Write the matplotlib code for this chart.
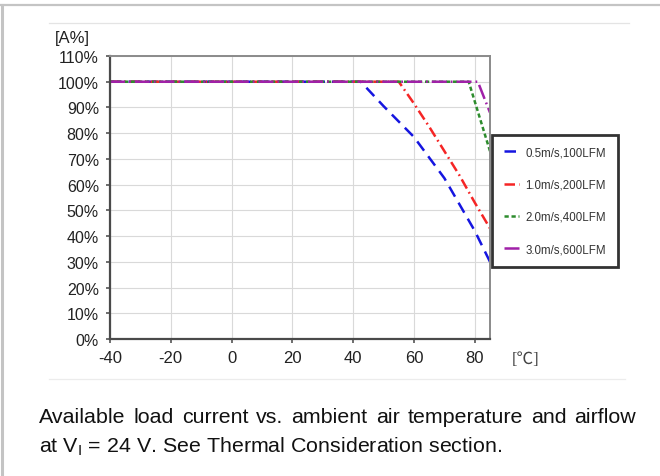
import matplotlib
matplotlib.use("Agg")
import matplotlib.pyplot as plt
from matplotlib.lines import Line2D

plt.rcParams['font.family'] = ['Liberation Sans', 'DejaVu Sans']
plt.rcParams['mathtext.fontset'] = 'custom'
plt.rcParams['mathtext.rm'] = 'Liberation Sans'

# ---- data ----
labels = ["0.5m/s,100LFM", "1.0m/s,200LFM", "2.0m/s,400LFM", "3.0m/s,600LFM"]
temp_05 = [-40, 42.5, 50, 60, 70, 80, 85]
load_05 = [100, 100, 90.5, 78.5, 62.5, 42, 30]
temp_10 = [-40, 55, 60, 65, 70, 75, 80, 85]
load_10 = [100, 100, 91.5, 82.5, 73, 63.5, 53, 43]
temp_20 = [-40, 78, 85]
load_20 = [100, 100, 73]
temp_30 = [-40, 81, 85]
load_30 = [100, 100, 88]
x_ticks = [-40, -20, 0, 20, 40, 60, 80]
y_ticks = [0, 10, 20, 30, 40, 50, 60, 70, 80, 90, 100, 110]

W, H = 660, 477
fig = plt.figure(figsize=(W / 100, H / 100), dpi=100)

def fx(px):
    return px / W

def fy(py):
    return 1 - py / H

# page frame
fig.add_artist(Line2D([0, 1], [fy(6), fy(6)], color='#c4c4c4', lw=1.6))
fig.add_artist(Line2D([fx(1.5), fx(1.5)], [0, fy(6)], color='#c4c4c4', lw=2.2))
# faint border lines of the embedded picture
fig.add_artist(Line2D([fx(49), fx(629)], [fy(24), fy(24)], color='#e4e4e4', lw=0.9))
fig.add_artist(Line2D([fx(49), fx(625)], [fy(380), fy(380)], color='#ececec', lw=0.9))

ax = fig.add_axes([fx(110), fy(340), (490 - 110) / W, (340 - 57) / H])

ax.plot(temp_05, load_05, color='#1515e0', lw=1.8, linestyle=(0, (4.6, 2.8)), label=labels[0])
ax.plot(temp_10, load_10, color='#f52525', lw=1.8, linestyle=(0, (4.2, 1.6, 0.7, 1.6)), label=labels[1])
ax.plot(temp_20, load_20, color='#2d8c2d', lw=1.8, linestyle=(0, (1.7, 1.1)), label=labels[2])
ax.plot(temp_30, load_30, color='#a020a8', lw=1.8, linestyle=(0, (6, 1.6, 0.7, 1.6)), label=labels[3])

ax.set_xlim(-40, 85)
ax.set_ylim(0, 110)
ax.set_xticks(x_ticks)
ax.set_yticks(y_ticks)
ax.set_xticklabels([str(v) for v in x_ticks], fontsize=12, color='#222222')
ax.set_yticklabels([f"{v}%" for v in y_ticks], fontsize=11.5, color='#222222')
ax.grid(True, color='#d9d9d9', lw=0.8)
ax.set_axisbelow(True)
for s in ['left', 'bottom']:
    ax.spines[s].set_color('#4a4a4a')
    ax.spines[s].set_linewidth(1.6)
for s in ['top', 'right']:
    ax.spines[s].set_color('#8a8a8a')
    ax.spines[s].set_linewidth(1.4)
ax.tick_params(axis='both', direction='out', length=3, width=1.2, color='#555555')
ax.tick_params(axis='y', pad=5)
ax.tick_params(axis='x', pad=5)

fig.text(fx(72), fy(39), "[A%]", fontsize=12, color='#222222', ha='center', va='center')
fig.text(fx(526), fy(360), "[℃]", fontsize=12, color='#444444', ha='center', va='center',
         family=['Liberation Serif', 'Noto Sans CJK SC', 'DejaVu Serif'])

leg = ax.legend(loc='upper left', bbox_to_anchor=(fx(492), fy(136)), bbox_transform=fig.transFigure,
                borderaxespad=0, fontsize=8.3, frameon=True, fancybox=False,
                borderpad=1.0, labelspacing=1.75, handlelength=1.3, handletextpad=0.6)
leg.get_frame().set_edgecolor('black')
leg.get_frame().set_linewidth(2.0)
for t in leg.get_texts():
    t.set_color('#333333')

# caption (justified first line)
fs_cap = 15.4
line1 = "Available load current vs. ambient air temperature and airflow".split()
texts = [fig.text(0, fy(423), w, fontsize=fs_cap, color='#111111', va='baseline') for w in line1]
renderer = fig.canvas.get_renderer()
widths = [t.get_window_extent(renderer).width for t in texts]
x0, x1 = 39, 636
gap = (x1 - x0 - sum(widths)) / (len(line1) - 1)
x = x0
for t, w in zip(texts, widths):
    t.set_x(fx(x))
    x += w + gap
fig.text(fx(39), fy(452), r"at V$_\mathrm{I}$ = 24 V. See Thermal Consideration section.",
         fontsize=fs_cap, color='#111111', va='baseline')

fig.savefig("out.png", dpi=100)
